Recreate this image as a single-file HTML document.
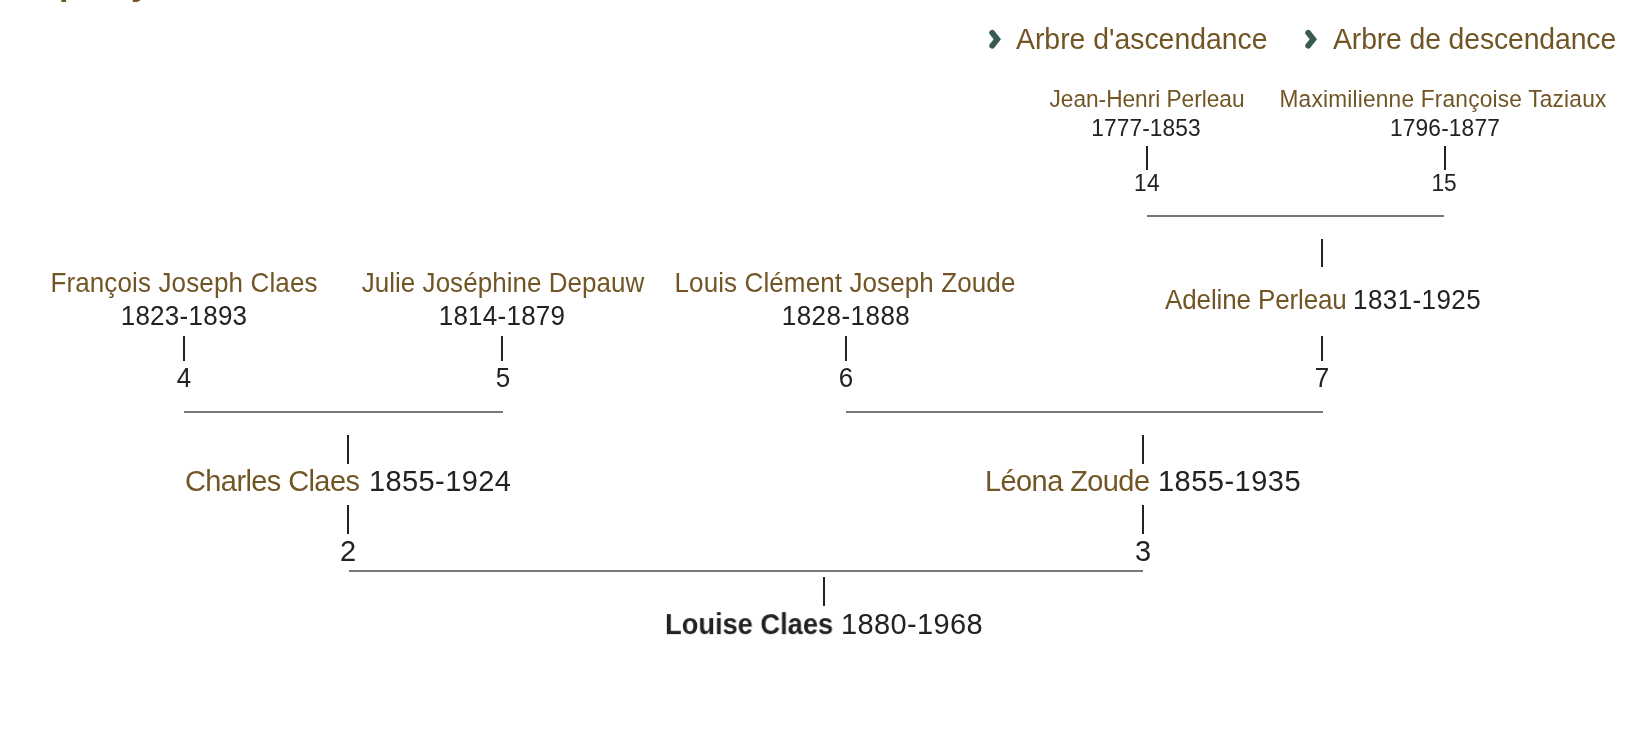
<!DOCTYPE html>
<html lang="fr"><head><meta charset="utf-8"><title>Ascendance - Louise Claes</title>
<style>
html,body{margin:0;padding:0;background:#fff;}
body{width:1638px;height:732px;position:relative;overflow:hidden;font-family:"Liberation Sans", Arial, sans-serif;}
.t{position:absolute;white-space:nowrap;line-height:1;will-change:transform;}
.p{position:absolute;}
.n{color:#715525;}
.y{color:#222222;}
b{font-weight:700;color:#222222;}
</style></head><body>
<div class="t" style="left:58.5px;top:-33.8px;font-size:34px;font-weight:700;color:#715525">p</div>
<div class="t" style="left:131px;top:-33.8px;font-size:34px;font-weight:700;color:#715525">y</div>
<svg class="p" style="left:984px;top:26px" width="22" height="26" viewBox="0 0 22 26"><polyline points="8.2,6.7 13.3,13.2 8.2,19.7" fill="none" stroke="#3a5a55" stroke-width="5.8" stroke-linecap="round" stroke-linejoin="miter"/></svg>
<svg class="p" style="left:1300.3px;top:26px" width="22" height="26" viewBox="0 0 22 26"><polyline points="8.2,6.7 13.3,13.2 8.2,19.7" fill="none" stroke="#3a5a55" stroke-width="5.8" stroke-linecap="round" stroke-linejoin="miter"/></svg>
<div class="t" style="left:1016.26px;top:24.76px;font-size:28.4px;letter-spacing:-0.009px;transform:scaleY(1.033);transform-origin:0 24.04px"><span class="n">Arbre d'ascendance</span></div>
<div class="t" style="left:1333.18px;top:24.76px;font-size:28.4px;letter-spacing:-0.131px;transform:scaleY(1.033);transform-origin:0 24.04px"><span class="n">Arbre de descendance</span></div>
<div class="t" style="left:1146.73px;top:88.08px;font-size:22.7px;letter-spacing:-0.028px;transform:translateX(-50%) scaleY(1.033);transform-origin:50% 19.22px"><span class="n">Jean-Henri Perleau</span></div>
<div class="t" style="left:1146.35px;top:116.88px;font-size:22.7px;letter-spacing:0.110px;transform:translateX(-50%) scaleY(1.033);transform-origin:50% 19.22px"><span class="y">1777-1853</span></div>
<div class="t" style="left:1147.00px;top:172.38px;font-size:22.7px;letter-spacing:0.400px;transform:translateX(-50%) scaleY(1.033);transform-origin:50% 19.22px"><span class="y">14</span></div>
<div class="t" style="left:1443.36px;top:88.08px;font-size:22.7px;letter-spacing:0.197px;transform:translateX(-50%) scaleY(1.033);transform-origin:50% 19.22px"><span class="n">Maximilienne Françoise Taziaux</span></div>
<div class="t" style="left:1444.64px;top:116.88px;font-size:22.7px;letter-spacing:0.150px;transform:translateX(-50%) scaleY(1.033);transform-origin:50% 19.22px"><span class="y">1796-1877</span></div>
<div class="t" style="left:1444.14px;top:172.38px;font-size:22.7px;letter-spacing:-0.160px;transform:translateX(-50%) scaleY(1.033);transform-origin:50% 19.22px"><span class="y">15</span></div>
<div class="t" style="left:1165.00px;top:286.99px;font-size:26px;letter-spacing:-0.126px;transform:scaleY(1.033);transform-origin:0 22.01px"><span class="n">Adeline Perleau</span></div>
<div class="t" style="left:1352.84px;top:286.99px;font-size:26px;letter-spacing:0.420px;transform:scaleY(1.033);transform-origin:0 22.01px"><span class="y">1831-1925</span></div>
<div class="t" style="left:1322.26px;top:365.49px;font-size:26px;letter-spacing:0.000px;transform:translateX(-50%) scaleY(1.033);transform-origin:50% 22.01px"><span class="y">7</span></div>
<div class="t" style="left:183.85px;top:270.49px;font-size:26px;letter-spacing:0.132px;transform:translateX(-50%) scaleY(1.033);transform-origin:50% 22.01px"><span class="n">François Joseph Claes</span></div>
<div class="t" style="left:183.87px;top:302.59px;font-size:26px;letter-spacing:0.260px;transform:translateX(-50%) scaleY(1.033);transform-origin:50% 22.01px"><span class="y">1823-1893</span></div>
<div class="t" style="left:184.10px;top:365.19px;font-size:26px;letter-spacing:0.000px;transform:translateX(-50%) scaleY(1.033);transform-origin:50% 22.01px"><span class="y">4</span></div>
<div class="t" style="left:502.90px;top:270.49px;font-size:26px;letter-spacing:0.034px;transform:translateX(-50%) scaleY(1.033);transform-origin:50% 22.01px"><span class="n">Julie Joséphine Depauw</span></div>
<div class="t" style="left:501.73px;top:302.59px;font-size:26px;letter-spacing:0.250px;transform:translateX(-50%) scaleY(1.033);transform-origin:50% 22.01px"><span class="y">1814-1879</span></div>
<div class="t" style="left:502.78px;top:365.19px;font-size:26px;letter-spacing:0.000px;transform:translateX(-50%) scaleY(1.033);transform-origin:50% 22.01px"><span class="y">5</span></div>
<div class="t" style="left:844.81px;top:270.49px;font-size:26px;letter-spacing:0.106px;transform:translateX(-50%) scaleY(1.033);transform-origin:50% 22.01px"><span class="n">Louis Clément Joseph Zoude</span></div>
<div class="t" style="left:845.95px;top:302.59px;font-size:26px;letter-spacing:0.470px;transform:translateX(-50%) scaleY(1.033);transform-origin:50% 22.01px"><span class="y">1828-1888</span></div>
<div class="t" style="left:845.70px;top:365.19px;font-size:26px;letter-spacing:0.000px;transform:translateX(-50%) scaleY(1.033);transform-origin:50% 22.01px"><span class="y">6</span></div>
<div class="t" style="left:185.02px;top:466.75px;font-size:29px;letter-spacing:-0.600px;transform:scaleY(1.033);transform-origin:0 24.55px"><span class="n">Charles Claes</span></div>
<div class="t" style="left:368.78px;top:466.75px;font-size:29px;letter-spacing:0.400px;transform:scaleY(1.033);transform-origin:0 24.55px"><span class="y">1855-1924</span></div>
<div class="t" style="left:347.88px;top:536.65px;font-size:29px;letter-spacing:0.000px;transform:translateX(-50%) scaleY(1.033);transform-origin:50% 24.55px"><span class="y">2</span></div>
<div class="t" style="left:985.16px;top:466.75px;font-size:29px;letter-spacing:-0.592px;transform:scaleY(1.033);transform-origin:0 24.55px"><span class="n">Léona Zoude</span></div>
<div class="t" style="left:1157.78px;top:466.75px;font-size:29px;letter-spacing:0.480px;transform:scaleY(1.033);transform-origin:0 24.55px"><span class="y">1855-1935</span></div>
<div class="t" style="left:1143.00px;top:536.65px;font-size:29px;letter-spacing:0.000px;transform:translateX(-50%) scaleY(1.033);transform-origin:50% 24.55px"><span class="y">3</span></div>
<div class="t" style="left:665.34px;top:609.95px;font-size:29px;letter-spacing:0.000px;transform:scaleY(1.033) scaleX(0.9397);transform-origin:0 24.55px"><b>Louise Claes</b></div>
<div class="t" style="left:841.40px;top:609.95px;font-size:29px;letter-spacing:0.380px;transform:scaleY(1.033);transform-origin:0 24.55px"><span class="y">1880-1968</span></div>
<div class="p" style="left:1145.90px;top:146.00px;width:2px;height:23.60px;background:#222222"></div>
<div class="p" style="left:1443.80px;top:146.00px;width:2px;height:23.60px;background:#222222"></div>
<div class="p" style="left:1147.00px;top:214.50px;width:296.50px;height:2px;background:#777777"></div>
<div class="p" style="left:1321.00px;top:238.50px;width:2px;height:28.00px;background:#222222"></div>
<div class="p" style="left:1321.00px;top:336.20px;width:2px;height:24.80px;background:#222222"></div>
<div class="p" style="left:183.20px;top:336.20px;width:2px;height:25.10px;background:#222222"></div>
<div class="p" style="left:501.40px;top:336.20px;width:2px;height:25.10px;background:#222222"></div>
<div class="p" style="left:844.50px;top:336.20px;width:2px;height:25.10px;background:#222222"></div>
<div class="p" style="left:184.20px;top:411.00px;width:318.40px;height:2px;background:#777777"></div>
<div class="p" style="left:846.20px;top:411.00px;width:476.40px;height:2px;background:#777777"></div>
<div class="p" style="left:347.20px;top:435.30px;width:2px;height:28.90px;background:#222222"></div>
<div class="p" style="left:347.20px;top:504.60px;width:2px;height:29.00px;background:#222222"></div>
<div class="p" style="left:1141.90px;top:435.30px;width:2px;height:28.90px;background:#222222"></div>
<div class="p" style="left:1141.90px;top:504.60px;width:2px;height:29.00px;background:#222222"></div>
<div class="p" style="left:348.60px;top:569.70px;width:794.70px;height:2px;background:#777777"></div>
<div class="p" style="left:823.30px;top:577.00px;width:2px;height:28.80px;background:#222222"></div>
</body></html>
